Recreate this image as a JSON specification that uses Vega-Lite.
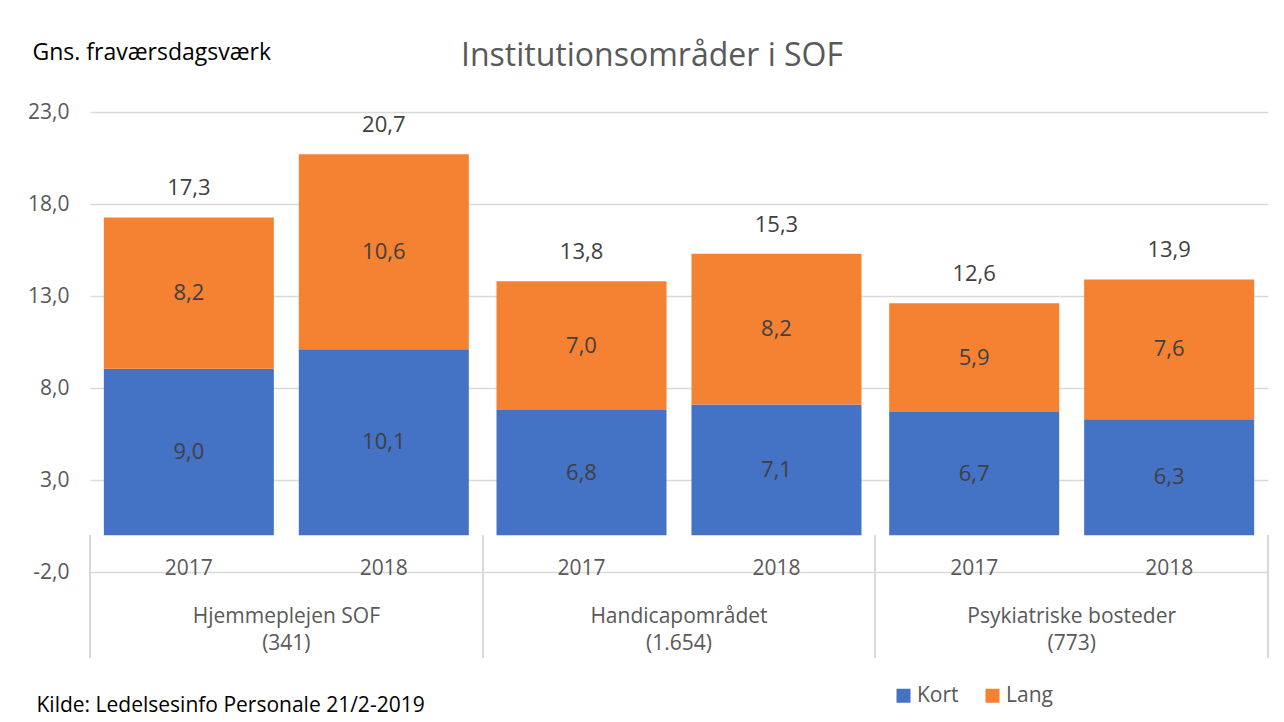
{
  "$schema": "https://vega.github.io/schema/vega-lite/v6.json",
  "autosize": {"type": "none"},
  "padding": {"left": 90, "top": 112, "right": 16, "bottom": 150},
  "width": 1178,
  "height": 460,
  "background": "white",
  "title": {
    "text": "Institutionsområder i SOF",
    "frame": "group",
    "anchor": "middle",
    "dx": -27,
    "offset": -57,
    "baseline": "alphabetic",
    "fontSize": 32,
    "fontWeight": "normal",
    "color": "#595959",
    "font": "Open Sans"
  },
  "data": {
    "values": [
      {"group": "Hjemmeplejen SOF (341)", "year": "2017", "type": "Kort", "value": 9.04},
      {"group": "Hjemmeplejen SOF (341)", "year": "2017", "type": "Lang", "value": 8.23},
      {"group": "Hjemmeplejen SOF (341)", "year": "2018", "type": "Kort", "value": 10.1},
      {"group": "Hjemmeplejen SOF (341)", "year": "2018", "type": "Lang", "value": 10.6},
      {"group": "Handicapområdet (1.654)", "year": "2017", "type": "Kort", "value": 6.8},
      {"group": "Handicapområdet (1.654)", "year": "2017", "type": "Lang", "value": 7.0},
      {"group": "Handicapområdet (1.654)", "year": "2018", "type": "Kort", "value": 7.1},
      {"group": "Handicapområdet (1.654)", "year": "2018", "type": "Lang", "value": 8.2},
      {"group": "Psykiatriske bosteder (773)", "year": "2017", "type": "Kort", "value": 6.7},
      {"group": "Psykiatriske bosteder (773)", "year": "2017", "type": "Lang", "value": 5.9},
      {"group": "Psykiatriske bosteder (773)", "year": "2018", "type": "Kort", "value": 6.3},
      {"group": "Psykiatriske bosteder (773)", "year": "2018", "type": "Lang", "value": 7.6}
    ]
  },
  "encoding": {
    "x": {
      "field": "group",
      "type": "nominal",
      "sort": null,
      "scale": {"paddingInner": 0, "paddingOuter": 0},
      "axis": {
        "domain": false,
        "ticks": false,
        "grid": false,
        "labelAngle": 0,
        "labelLimit": 0,
        "labelExpr": "split(replace(datum.label, ' (', '|('), '|')",
        "labelPadding": 33,
        "labelLineHeight": 27,
        "labelFontSize": 21,
        "labelColor": "#595959",
        "labelFont": "Open Sans",
        "title": "Kilde: Ledelsesinfo Personale 21/2-2019",
        "titleX": -54,
        "titleY": 133,
        "titleAlign": "left",
        "titleAnchor": null,
        "titleBaseline": "middle",
        "titleFontSize": 21,
        "titleFontWeight": "normal",
        "titleColor": "#000000",
        "titleFont": "Open Sans"
      }
    },
    "xOffset": {
      "field": "year",
      "type": "nominal",
      "scale": {"paddingInner": 0.128, "paddingOuter": 0.071}
    }
  },
  "layer": [
    {
      "mark": {"type": "bar"},
      "encoding": {
        "y": {
          "aggregate": "sum",
          "field": "value",
          "type": "quantitative",
          "scale": {"domain": [-2, 23], "nice": false, "zero": false},
          "axis": {
            "values": [-2, 3, 8, 13, 18, 23],
            "format": ".1f",
            "grid": true,
            "gridColor": "#D9D9D9",
            "gridWidth": 1.3,
            "domain": false,
            "ticks": false,
            "labelPadding": 21,
            "labelFontSize": 21,
            "labelColor": "#595959",
            "labelFont": "Open Sans",
            "title": "Gns. fraværsdagsværk",
            "titleAngle": 0,
            "titleAlign": "left",
            "titleBaseline": "middle",
            "titleX": -58,
            "titleY": -60,
            "titleFontSize": 23,
            "titleFontWeight": "normal",
            "titleColor": "#000000",
            "titleFont": "Open Sans"
          }
        },
        "color": {
          "field": "type",
          "type": "nominal",
          "scale": {"domain": ["Kort", "Lang"], "range": ["#4472C4", "#F58232"]},
          "legend": {
            "orient": "none",
            "legendX": 803,
            "legendY": 573,
            "direction": "horizontal",
            "title": null,
            "symbolType": "square",
            "symbolSize": 196,
            "symbolStrokeWidth": 0,
            "symbolOpacity": 1,
            "labelFontSize": 21,
            "labelColor": "#595959",
            "labelFont": "Open Sans",
            "labelOffset": 3,
            "columnPadding": 23,
            "padding": 0
          }
        },
        "order": {"field": "type", "type": "nominal", "sort": "ascending"}
      }
    },
    {
      "mark": {"type": "rule", "color": "#D9D9D9", "strokeWidth": 1.3},
      "encoding": {"y": {"datum": 0}}
    },
    {
      "mark": {"type": "rule", "color": "#D9D9D9", "strokeWidth": 1.3},
      "encoding": {
        "x": {"field": "group", "type": "nominal", "sort": null, "bandPosition": 0},
        "xOffset": null,
        "y": {"datum": 0},
        "y2": {"datum": -6.67}
      }
    },
    {
      "mark": {"type": "rule", "color": "#D9D9D9", "strokeWidth": 1.3},
      "encoding": {
        "x": {"field": "group", "type": "nominal", "sort": null, "bandPosition": 1},
        "xOffset": null,
        "y": {"datum": 0},
        "y2": {"datum": -6.67}
      }
    },
    {
      "mark": {"type": "text", "fontSize": 22, "color": "#404040", "font": "Open Sans", "baseline": "middle"},
      "encoding": {
        "y": {"field": "value", "type": "quantitative", "stack": "zero", "bandPosition": 0.5},
        "detail": {"field": "type", "type": "nominal"},
        "order": {"field": "type", "type": "nominal", "sort": "ascending"},
        "text": {"field": "value", "type": "quantitative", "format": ".1f"}
      }
    },
    {
      "mark": {"type": "text", "fontSize": 22, "color": "#404040", "font": "Open Sans", "baseline": "middle", "dy": -29},
      "encoding": {
        "y": {"aggregate": "sum", "field": "value", "type": "quantitative"},
        "text": {"aggregate": "sum", "field": "value", "type": "quantitative", "format": ".1f"}
      }
    },
    {
      "transform": [{"filter": "datum.type === 'Kort'"}],
      "mark": {"type": "text", "fontSize": 21, "color": "#595959", "font": "Open Sans", "baseline": "middle"},
      "encoding": {
        "y": {"datum": -1.85},
        "text": {"field": "year", "type": "nominal"}
      }
    }
  ],
  "config": {
    "locale": {
      "number": {"decimal": ",", "thousands": ".", "grouping": [3], "currency": ["", " kr."], "minus": "-"}
    },
    "view": {"stroke": null},
    "font": "Open Sans"
  }
}
